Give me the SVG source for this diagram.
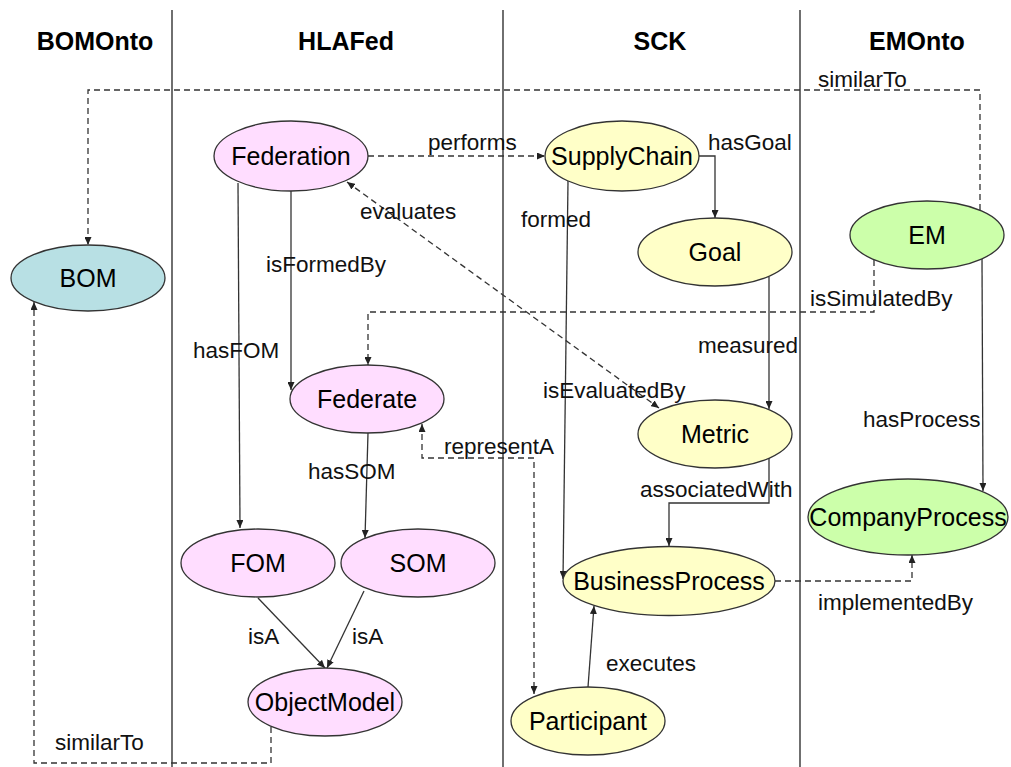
<svg xmlns="http://www.w3.org/2000/svg" width="1011" height="767" viewBox="0 0 1011 767">
  <defs>
    <marker id="arrow" viewBox="0 0 8 7" refX="8" refY="3.5" markerWidth="8" markerHeight="7" markerUnits="userSpaceOnUse" orient="auto-start-reverse">
      <path d="M0,0 L8,3.5 L0,7 z" fill="#222"/>
    </marker>
    <style>
      .lane { stroke: #222; stroke-width: 1.3; }
      .head { font-family: "Liberation Sans", Arial, sans-serif; font-size: 25px; font-weight: bold; fill: #000; text-anchor: middle; }
      .node ellipse { stroke: #333; stroke-width: 1.3; }
      .node text { font-family: "Liberation Sans", Arial, sans-serif; font-size: 25px; fill: #000; text-anchor: middle; }
      .pink { fill: #ffddff; }
      .yellow { fill: #ffffc8; }
      .green { fill: #ccffaa; }
      .blue { fill: #b8e0e4; }
      .edge { fill: none; stroke: #333; stroke-width: 1.3; }
      .dash { stroke-dasharray: 6 4; }
      .end { marker-end: url(#arrow); }
      .both { marker-start: url(#arrow); marker-end: url(#arrow); }
      .label { font-family: "Liberation Sans", Arial, sans-serif; font-size: 22.5px; fill: #111; }
    </style>
  </defs>

  <rect width="1011" height="767" fill="#fff"/>

  <!-- swimlane separators and headings -->
  <g id="lanes">
    <line class="lane" x1="172" y1="10" x2="172" y2="767"/>
    <line class="lane" x1="503" y1="10" x2="503" y2="767"/>
    <line class="lane" x1="800" y1="10" x2="800" y2="767"/>
    <text class="head" x="95" y="50">BOMOnto</text>
    <text class="head" x="346" y="50">HLAFed</text>
    <text class="head" x="660" y="50">SCK</text>
    <text class="head" x="917" y="50">EMOnto</text>
  </g>

  <!-- relations -->
  <g id="connectors">
    <path id="e-performs" class="edge dash end" d="M368,156 L545,156"/>
    <path id="e-hasGoal" class="edge end" d="M699,156 L715,156 L715,218"/>
    <path id="e-hasFOM" class="edge end" d="M238,183 L240,528"/>
    <path id="e-isFormedBy" class="edge end" d="M291,191 L291,390"/>
    <path id="e-evaluates" class="edge dash both" d="M347,182 L659,408"/>
    <path id="e-isSimulatedBy" class="edge dash end" d="M874,260 L874,312 L368,312 L368,365"/>
    <path id="e-similarTo-top" class="edge dash end" d="M980,210 L980,90 L88,90 L88,245"/>
    <path id="e-similarTo-bottom" class="edge dash end" d="M271,727 L271,763 L34,763 L34,302"/>
    <path id="e-hasSOM" class="edge end" d="M368,433 L365,538"/>
    <path id="e-isA-fom" class="edge end" d="M258,598 L325,668"/>
    <path id="e-isA-som" class="edge end" d="M364,591 L327,668"/>
    <path id="e-representA" class="edge dash both" d="M422,424 L422,458 L534,458 L534,694"/>
    <path id="e-formed" class="edge end" d="M568,181 L563,579"/>
    <path id="e-measured" class="edge end" d="M769,277 L769,409"/>
    <path id="e-associatedWith" class="edge end" d="M769,458 L769,503 L669,503 L669,546"/>
    <path id="e-executes" class="edge end" d="M588,687 L594,606"/>
    <path id="e-implementedBy" class="edge dash end" d="M775,581 L912,581 L912,555"/>
    <path id="e-hasProcess" class="edge end" d="M982,259 L983,491"/>

    <text class="label" x="428" y="150">performs</text>
    <text class="label" x="708" y="150">hasGoal</text>
    <text class="label" x="360" y="219">evaluates</text>
    <text class="label" x="521" y="227">formed</text>
    <text class="label" x="266" y="272">isFormedBy</text>
    <text class="label" x="810" y="306">isSimulatedBy</text>
    <text class="label" x="193" y="358">hasFOM</text>
    <text class="label" x="698" y="353">measured</text>
    <text class="label" x="543" y="398">isEvaluatedBy</text>
    <text class="label" x="863" y="427">hasProcess</text>
    <text class="label" x="444" y="454">representA</text>
    <text class="label" x="308" y="479">hasSOM</text>
    <text class="label" x="640" y="497">associatedWith</text>
    <text class="label" x="818" y="610">implementedBy</text>
    <text class="label" x="248" y="644">isA</text>
    <text class="label" x="352" y="644">isA</text>
    <text class="label" x="606" y="671">executes</text>
    <text class="label" x="818" y="87">similarTo</text>
    <text class="label" x="55" y="750">similarTo</text>
  </g>

  <!-- concepts -->
  <g id="BOM" class="node"><ellipse class="blue" cx="88" cy="278" rx="77" ry="33"/><text x="88" y="287">BOM</text></g>
  <g id="Federation" class="node"><ellipse class="pink" cx="291" cy="156" rx="77" ry="35"/><text x="291" y="165">Federation</text></g>
  <g id="Federate" class="node"><ellipse class="pink" cx="367" cy="399" rx="77" ry="34"/><text x="367" y="408">Federate</text></g>
  <g id="FOM" class="node"><ellipse class="pink" cx="258" cy="563" rx="77" ry="34"/><text x="258" y="572">FOM</text></g>
  <g id="SOM" class="node"><ellipse class="pink" cx="418" cy="563" rx="77" ry="34"/><text x="418" y="572">SOM</text></g>
  <g id="ObjectModel" class="node"><ellipse class="pink" cx="325" cy="702" rx="77" ry="34"/><text x="325" y="711">ObjectModel</text></g>
  <g id="SupplyChain" class="node"><ellipse class="yellow" cx="622" cy="156" rx="77" ry="35"/><text x="622" y="165">SupplyChain</text></g>
  <g id="Goal" class="node"><ellipse class="yellow" cx="715" cy="252" rx="77" ry="34"/><text x="715" y="261">Goal</text></g>
  <g id="Metric" class="node"><ellipse class="yellow" cx="715" cy="434" rx="77" ry="34"/><text x="715" y="443">Metric</text></g>
  <g id="BusinessProcess" class="node"><ellipse class="yellow" cx="669" cy="581" rx="106" ry="34.5"/><text x="669" y="590">BusinessProcess</text></g>
  <g id="Participant" class="node"><ellipse class="yellow" cx="588" cy="721" rx="77" ry="34"/><text x="588" y="730">Participant</text></g>
  <g id="EM" class="node"><ellipse class="green" cx="927" cy="235" rx="77" ry="34"/><text x="927" y="244">EM</text></g>
  <g id="CompanyProcess" class="node"><ellipse class="green" cx="908" cy="517" rx="100" ry="38"/><text x="908" y="526">CompanyProcess</text></g>
</svg>
